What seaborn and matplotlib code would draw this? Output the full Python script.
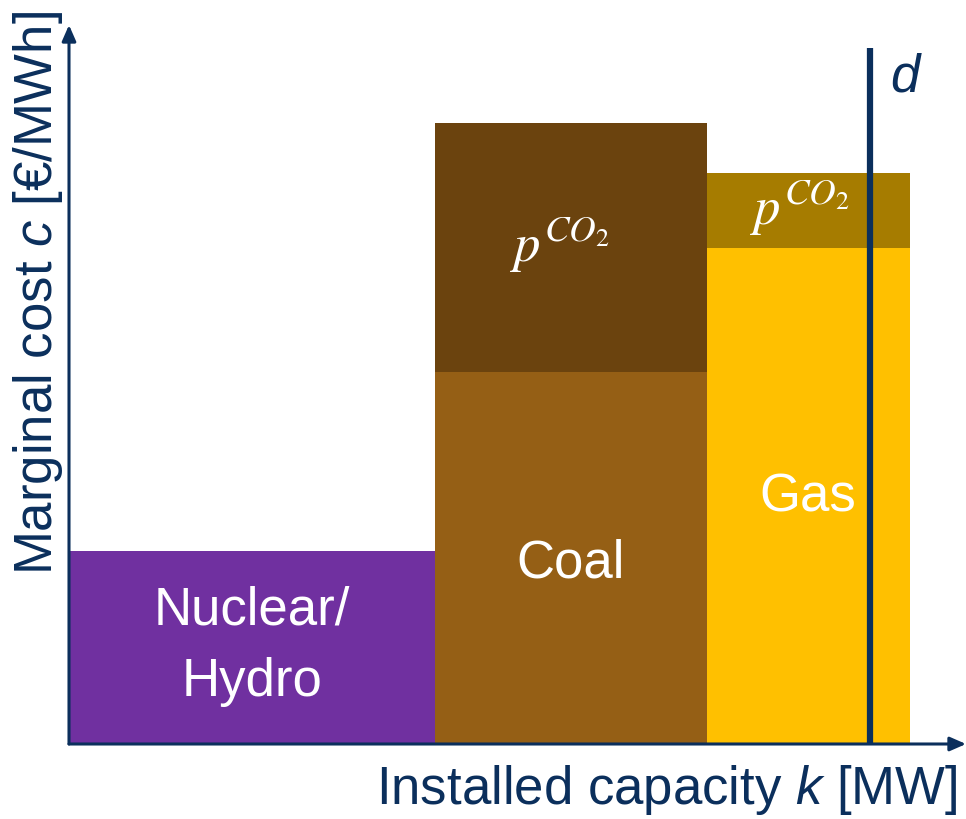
import matplotlib
matplotlib.use("Agg")
import matplotlib.pyplot as plt
import seaborn as sns
import numpy as np

# Merit-order data: capacity blocks (width) and marginal cost components (height)
technologies = ["Nuclear/\nHydro", "Coal", "Gas"]
capacity = [36.6, 27.2, 20.3]          # MW (arbitrary units)
fuel_cost = [19.3, 37.2, 49.6]         # €/MWh
co2_cost = [0.0, 24.9, 7.5]            # €/MWh added by CO2 price
demand = 80.1                          # MW

base_colors = ["#7030A0", "#955F15", "#FFC000"]
co2_colors = [None, "#6B430E", "#A67C00"]
navy = "#0B2F5C"

sns.set_theme(style="white")
plt.rcParams["font.family"] = ["Liberation Sans", "DejaVu Sans"]
plt.rcParams["mathtext.fontset"] = "custom"
plt.rcParams["mathtext.rm"] = "Liberation Sans"
plt.rcParams["mathtext.it"] = "Liberation Sans:italic"

fig = plt.figure(figsize=(9.66, 8.19), dpi=100)
ax = fig.add_axes([69 / 966, 75 / 819, 897 / 966, 719 / 819])
ax.set_xlim(0, 89.7)
ax.set_ylim(0, 71.9)

starts = np.concatenate([[0], np.cumsum(capacity)[:-1]])

# Base marginal cost blocks
ax.bar(starts, fuel_cost, width=capacity, align="edge", color=base_colors,
       linewidth=0, zorder=2)
# CO2 cost adders on top, labelled with the carbon price symbol
co2_label_x = [0, 49.1, 73.1]
for s, w, f, c, col, lx in zip(starts, capacity, fuel_cost, co2_cost,
                               co2_colors, co2_label_x):
    if c > 0:
        ax.bar(s, c, width=w, bottom=f, align="edge", color=col,
               linewidth=0, zorder=2)
        ax.text(lx, f + c / 2 + 0.3, r"$p^{CO_2}$", ha="center", va="center",
                color="white", fontsize=38, math_fontfamily="stix", zorder=4)

# Technology labels
label_pos = [(18.3, 9.8), (50.2, 18.1), (73.9, 24.6)]
for name, (lx, ly) in zip(technologies, label_pos):
    ax.text(lx, ly, name, ha="center", va="center", color="white",
            fontsize=38, linespacing=1.55, zorder=4)

# Demand line
ax.plot([demand, demand], [0, 69.6], color=navy, lw=4.5, zorder=3,
        solid_capstyle="butt")
ax.text(demand + 3.6, 66.6, "$d$", ha="center", va="center", color=navy,
        fontsize=38)

# Axes drawn as arrows
for sp in ax.spines.values():
    sp.set_visible(False)
ax.set_xticks([])
ax.set_yticks([])
ax.annotate("", xy=(1.0, 0), xytext=(0, 0), xycoords="axes fraction",
            arrowprops=dict(arrowstyle="-|>,head_length=0.8,head_width=0.35",
                            color=navy, lw=2.2, shrinkA=0, shrinkB=0),
            zorder=5)
ax.annotate("", xy=(0, 1.0), xytext=(0, 0), xycoords="axes fraction",
            arrowprops=dict(arrowstyle="-|>,head_length=0.8,head_width=0.35",
                            color=navy, lw=2.2, shrinkA=0, shrinkB=0),
            zorder=5)

fig.text(667 / 966, 1 - 790 / 819, "Installed capacity $k$ [MW]", ha="center",
         va="center", color=navy, fontsize=38)
fig.text(38 / 966, 1 - 293 / 819, "Marginal cost $c$ [€/MWh]", ha="center",
         va="center", rotation=90, color=navy, fontsize=38)

fig.savefig("out.png", dpi=100)
